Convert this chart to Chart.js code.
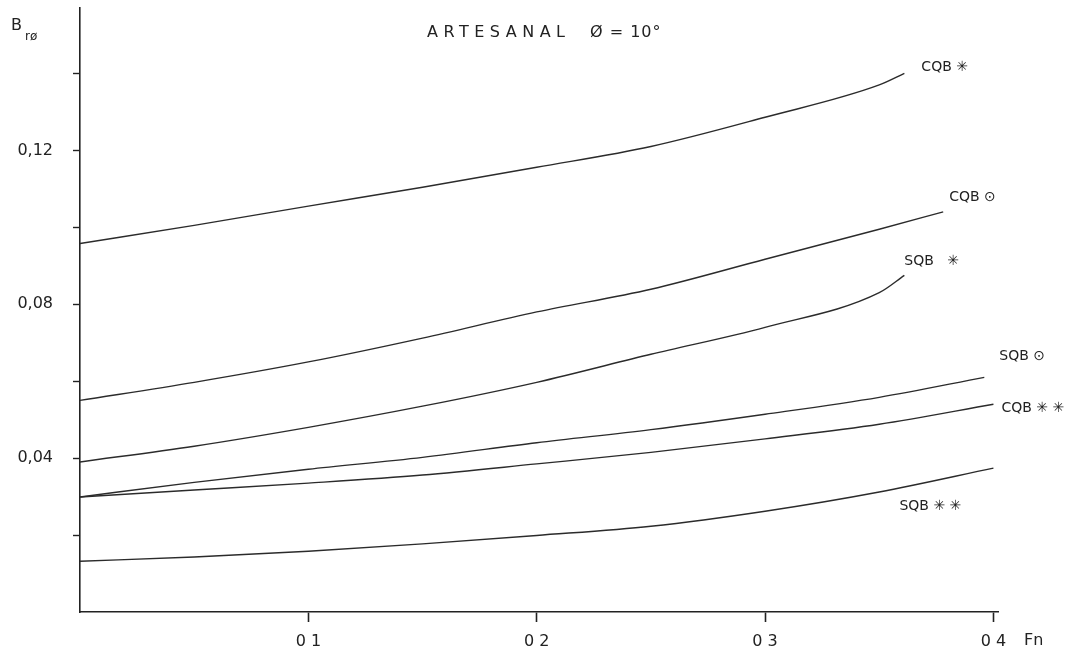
<!DOCTYPE html>
<html>
<head>
<meta charset="utf-8">
<script src="https://cdn.jsdelivr.net/npm/chart.js@4.4.1/dist/chart.umd.min.js"></script>
<style>
  html, body { margin: 0; padding: 0; background: #fff; }
  #wrap { width: 1081px; height: 656px; }
</style>
</head>
<body>
<div id="wrap"><canvas id="chart"></canvas></div>
<script>
// Fn values (the last one is where each curve stops)
const fnCqbStar = [0, 0.05, 0.1, 0.15, 0.2, 0.25, 0.3, 0.35, 0.361];
const fnCqbDot = [0, 0.05, 0.1, 0.15, 0.2, 0.25, 0.3, 0.35, 0.378];
const fnSqbStar = [0, 0.05, 0.1, 0.15, 0.2, 0.25, 0.3, 0.35, 0.361];
const fnSqbDot = [0, 0.05, 0.1, 0.15, 0.2, 0.25, 0.3, 0.35, 0.396];
const fnCqbStar2 = [0, 0.05, 0.1, 0.15, 0.2, 0.25, 0.3, 0.35, 0.4];
const fnSqbStar2 = [0, 0.05, 0.1, 0.15, 0.2, 0.25, 0.3, 0.35, 0.4];

// B r0 values
const cqbStar = [0.0958, 0.1005, 0.1055, 0.1104, 0.1156, 0.121, 0.1286, 0.137, 0.140];
const cqbDot = [0.055, 0.0597, 0.065, 0.0712, 0.078, 0.0839, 0.0917, 0.0995, 0.104];
const sqbStar = [0.039, 0.0431, 0.048, 0.0535, 0.0597, 0.067, 0.074, 0.083, 0.0875];
const sqbDot = [0.0299, 0.0337, 0.0371, 0.0402, 0.044, 0.0474, 0.0514, 0.0558, 0.061];
const cqbStar2 = [0.0299, 0.0317, 0.0335, 0.0356, 0.0385, 0.0415, 0.045, 0.0488, 0.054];
const sqbStar2 = [0.0132, 0.0143, 0.0158, 0.0177, 0.0199, 0.0223, 0.0262, 0.0312, 0.0374];

const curveNames = ['CQB ✳', 'CQB ⊙', 'SQB   ✳', 'SQB ⊙', 'CQB ✳ ✳', 'SQB ✳ ✳'];

// tick positions and labels
const xTicks = [0.1, 0.2, 0.3, 0.4];
const xTickLabels = ['0 1', '0 2', '0 3', '0 4'];
const yTicks = [0.02, 0.04, 0.06, 0.08, 0.10, 0.12, 0.14];
const yTickLabels = ['', '0,04', '', '0,08', '', '0,12', ''];

// where each curve label sits relative to the end of its curve (px)
const labelOffsets = [[17, -6], [6, -15], [0, -14], [15, -21], [8, 4], [-94, 38]];

function toPoints(xs, ys) {
  return xs.map((x, i) => ({ x: x, y: ys[i] }));
}

const series = [
  toPoints(fnCqbStar, cqbStar),
  toPoints(fnCqbDot, cqbDot),
  toPoints(fnSqbStar, sqbStar),
  toPoints(fnSqbDot, sqbDot),
  toPoints(fnCqbStar2, cqbStar2),
  toPoints(fnSqbStar2, sqbStar2)
];

const lineColor = '#2b2b2b';
const FONT = '"DejaVu Sans", sans-serif';

// text that is not part of the axes: title, axis names, curve labels
const annotations = {
  id: 'annotations',
  afterDraw(chart) {
    const ctx = chart.ctx;
    ctx.save();
    ctx.fillStyle = '#222';
    ctx.textBaseline = 'alphabetic';

    // y axis name
    ctx.font = '16px ' + FONT;
    ctx.fillText('B', 11, 30);
    ctx.font = '12px ' + FONT;
    ctx.fillText('rø', 25, 40);

    // title
    ctx.font = '16px ' + FONT;
    ctx.letterSpacing = '5.5px';
    ctx.fillText('ARTESANAL', 427, 37);
    ctx.letterSpacing = '1px';
    ctx.fillText('Ø = 10°', 590, 37);
    ctx.letterSpacing = '0px';

    // x axis name
    ctx.font = '16px ' + FONT;
    ctx.textBaseline = 'middle';
    ctx.fillText('Fn', 1024, 641);

    // curve labels
    ctx.font = '14px ' + FONT;
    chart.data.datasets.forEach((ds, i) => {
      const last = ds.data[ds.data.length - 1];
      const px = chart.scales.x.getPixelForValue(last.x);
      const py = chart.scales.y.getPixelForValue(last.y);
      ctx.fillText(curveNames[i], px + labelOffsets[i][0], py + labelOffsets[i][1]);
    });
    ctx.restore();
  }
};

new Chart(document.getElementById('chart'), {
  type: 'scatter',
  data: {
    datasets: series.map((pts, i) => ({
      label: curveNames[i],
      data: pts,
      showLine: true,
      borderColor: lineColor,
      borderWidth: 1.4,
      pointRadius: 0,
      cubicInterpolationMode: 'monotone',
      fill: false
    }))
  },
  options: {
    responsive: true,
    maintainAspectRatio: false,
    animation: false,
    layout: {
      padding: { top: 8, right: 83, left: 0, bottom: 0 }
    },
    plugins: {
      legend: { display: false },
      tooltip: { enabled: false }
    },
    scales: {
      x: {
        type: 'linear',
        min: 0,
        max: 0.402,
        afterFit: scale => {
          scale.height = 44;
          scale.paddingLeft = 0;
          scale.paddingRight = 0;
        },
        afterBuildTicks: scale => { scale.ticks = xTicks.map(v => ({ value: v })); },
        border: { display: true, color: '#222', width: 1.6 },
        grid: {
          drawOnChartArea: false,
          drawTicks: true,
          tickLength: 10,
          color: '#222',
          tickWidth: 1.6
        },
        ticks: {
          color: '#222',
          padding: 10,
          maxRotation: 0,
          font: { family: FONT, size: 16 },
          callback: (v) => {
            const k = xTicks.findIndex(t => Math.abs(t - v) < 1e-6);
            return k >= 0 ? xTickLabels[k] : '';
          }
        }
      },
      y: {
        type: 'linear',
        min: 0,
        max: 0.157,
        afterFit: scale => {
          scale.width = 80;
          scale.paddingTop = 0;
          scale.paddingBottom = 0;
        },
        afterBuildTicks: scale => { scale.ticks = yTicks.map(v => ({ value: v })); },
        border: { display: true, color: '#222', width: 1.6 },
        grid: {
          drawOnChartArea: false,
          drawTicks: true,
          tickLength: 7,
          color: '#222',
          tickWidth: 1.4
        },
        ticks: {
          color: '#222',
          padding: 20,
          font: { family: FONT, size: 16 },
          callback: (v) => {
            const k = yTicks.findIndex(t => Math.abs(t - v) < 1e-6);
            return k >= 0 ? yTickLabels[k] : '';
          }
        }
      }
    }
  },
  plugins: [annotations]
});
</script>
</body>
</html>
